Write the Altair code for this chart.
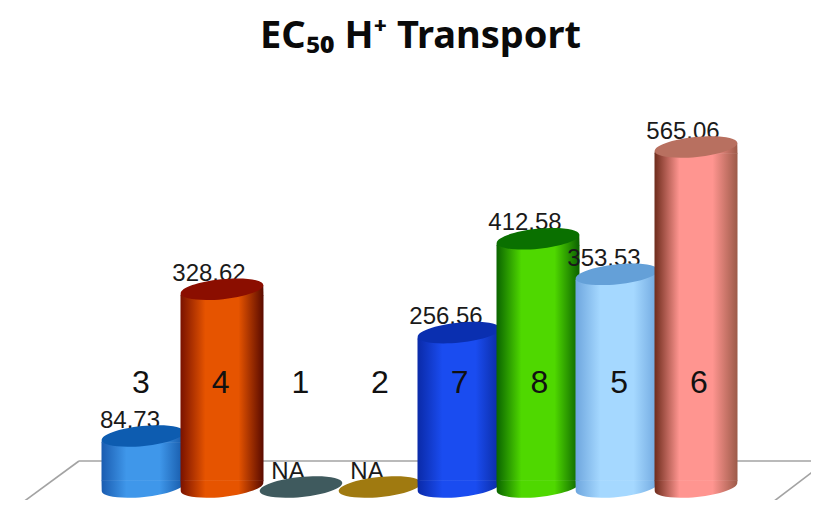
import math
import altair as alt
import pandas as pd

compounds = ["3", "4", "1", "2", "7", "8", "5", "6"]
values = [84.73, 328.62, None, None, 256.56, 412.58, 353.53, 565.06]
value_labels = ["84.73", "328.62", "NA", "NA", "256.56", "412.58", "353.53", "565.06"]
left_colors = ["#1a5cb0", "#7a1200", "#3f5a5e", "#a07a10", "#0a2aa8", "#0a6400", "#6ea6de", "#6e2c1c"]
mid_colors = ["#3f97ea", "#e65400", "#3f5a5e", "#a07a10", "#1a4cf0", "#4fd800", "#a5d8ff", "#ff9590"]
right_colors = ["#1558a8", "#5a0a00", "#3f5a5e", "#a07a10", "#0a2aa0", "#0a6000", "#6ea6de", "#9c5a48"]
cap_colors = ["#0d5cb0", "#8b0e00", "#3f5a5e", "#a07a10", "#0a2fb0", "#0a7000", "#64a0d8", "#b87060"]

TILT = math.radians(-6)
RY = 0.24
K = 0.5523


def rot(px, py):
    return (px * math.cos(TILT) - py * math.sin(TILT), px * math.sin(TILT) + py * math.cos(TILT))


def pt(px, py):
    a, b = rot(px, py)
    return f"{a:.4f},{b:.4f}"


lower = (f"C{pt(1, K * RY)} {pt(K, RY)} {pt(0, RY)} C{pt(-K, RY)} {pt(-1, K * RY)} {pt(-1, 0)}")
upper = (f"C{pt(-1, -K * RY)} {pt(-K, -RY)} {pt(0, -RY)} C{pt(K, -RY)} {pt(1, -K * RY)} {pt(1, 0)}")
ELLIPSE = f"M{pt(1, 0)} {lower} {upper} Z"
BOTTOM = f"M-1,-0.16 L1,-0.16 L{pt(1, 0)} {lower} Z"
TOP = f"M{pt(-1, 0)} L{pt(1, 0)} L1,0.16 L-1,0.16 Z"

R = 41.5
SYM = (2 * R) ** 2
INSET = 0.16 * R - 0.5

x_scale = alt.Scale(domain=compounds, range=[95.5, 727.5], paddingInner=0, paddingOuter=0)
y_scale = alt.Scale(domain=[0, 600], range=[479, 118])

df = pd.DataFrame(
    {
        "compound": compounds,
        "pos": [v if v is not None else 0 for v in values],
        "zero": [0] * len(compounds),
        "label": value_labels,
    }
)

X = alt.X("compound:N", scale=x_scale, axis=None)
layers = []

# floor of the 3D plot
for x0, x1, y0, y1 in [(71, 811, 453, 453), (71, 7, 453, 500), (811, 757, 459, 500)]:
    layers.append(
        alt.Chart(df.head(1))
        .mark_rule(color="#a3a3a3", strokeWidth=1.6)
        .encode(x=alt.value(x0), x2=alt.value(x1), y=alt.value(y0), y2=alt.value(y1))
    )

for i, c in enumerate(compounds):
    d = df[df.compound == c]
    base = alt.Chart(d)
    Y = alt.Y("pos:Q", scale=y_scale, axis=None)
    Y0 = alt.Y("zero:Q", scale=y_scale, axis=None)
    grad = alt.Gradient(
        gradient="linear",
        x1=0,
        x2=1,
        y1=0,
        y2=0,
        stops=[
            alt.GradientStop(color=left_colors[i], offset=0),
            alt.GradientStop(color=mid_colors[i], offset=0.3),
            alt.GradientStop(color=mid_colors[i], offset=0.7),
            alt.GradientStop(color=right_colors[i], offset=1),
        ],
    )
    if values[i] is not None:
        layers.append(
            base.mark_point(shape=BOTTOM, size=SYM, filled=True, fill=grad, opacity=1, strokeWidth=0).encode(x=X, y=Y0)
        )
        layers.append(
            base.mark_bar(size=2 * R, fill=grad, yOffset=INSET, y2Offset=-INSET, strokeWidth=0).encode(
                x=X, y=Y, y2=alt.Y2("zero:Q")
            )
        )
        layers.append(
            base.mark_point(shape=TOP, size=SYM, filled=True, fill=grad, opacity=1, strokeWidth=0).encode(x=X, y=Y)
        )
    layers.append(
        base.mark_text(
            font="Liberation Sans", fontSize=24, color="#1a1a1a", dx=-13, dy=-8.5, baseline="alphabetic", align="center"
        ).encode(x=X, y=Y, text="label:N")
    )
    layers.append(
        base.mark_point(shape=ELLIPSE, size=SYM, filled=True, fill=cap_colors[i], opacity=1, strokeWidth=0).encode(x=X, y=Y)
    )

for i, c in enumerate(compounds):
    d = df[df.compound == c]
    layers.append(
        alt.Chart(d)
        .mark_text(
            font="Liberation Sans", fontSize=32, color="#111111", dx=(i - 3) * 0.7, baseline="alphabetic", align="center"
        )
        .encode(x=X, y=alt.value(385), text="compound:N")
    )

chart = (
    alt.layer(*layers)
    .properties(
        width=803,
        height=492,
        padding=0,
        background="white",
        autosize=alt.AutoSizeParams(type="none"),
        title=alt.TitleParams(
            text="EC\u2085\u2080 H\u207a Transport",
            font="Noto Sans",
            fontWeight="bold",
            fontSize=38,
            color="#0a0a0a",
            anchor="middle",
            offset=-48,
            dx=11,
        ),
    )
    .configure_view(stroke=None)
)
chart.save("out.html", embed_options={"renderer": "svg", "actions": False})
